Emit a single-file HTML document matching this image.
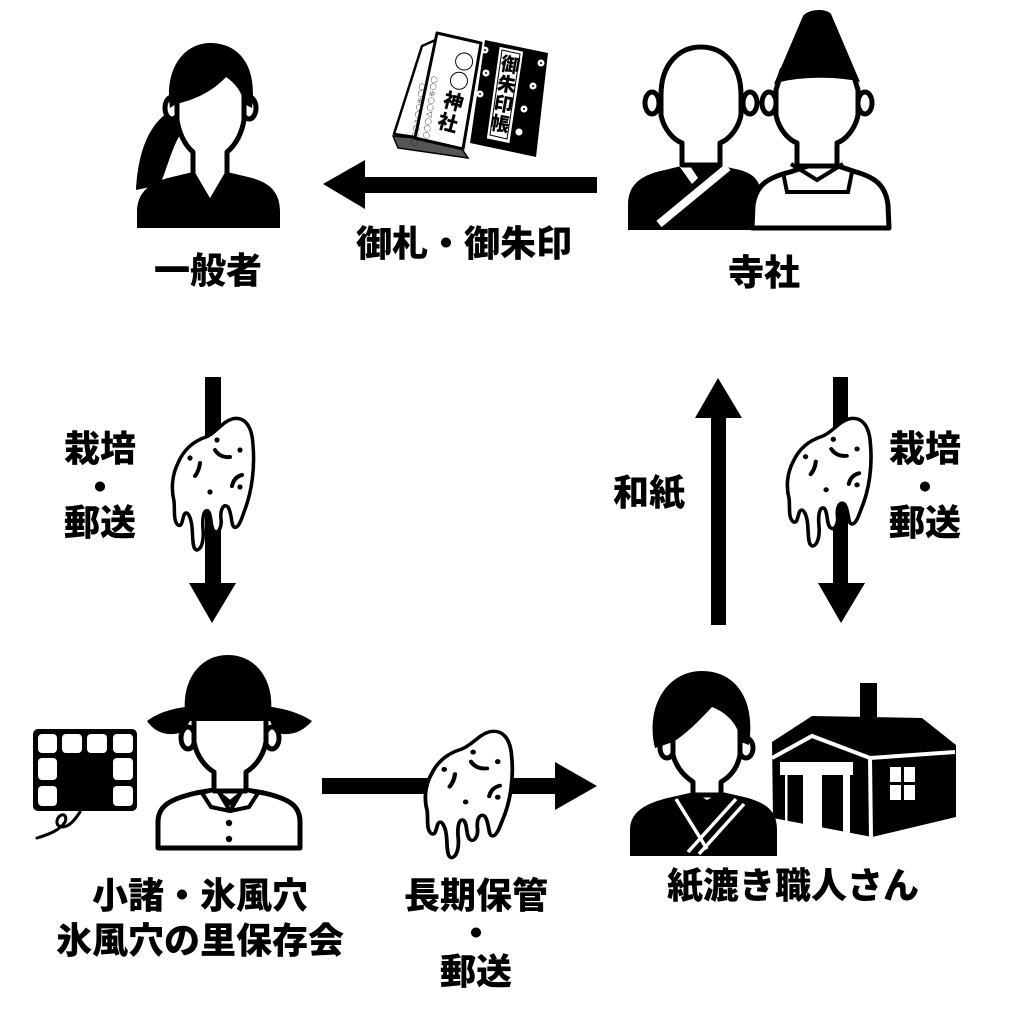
<!DOCTYPE html>
<html><head><meta charset="utf-8"><style>
html,body{margin:0;padding:0;background:#fff;}
svg{display:block;}
.t{font-family:"Liberation Sans","Noto Sans CJK JP",sans-serif;font-weight:900;font-size:36px;text-anchor:middle;fill:#000;}
.b{font-family:"Noto Sans CJK JP",sans-serif;font-weight:900;text-anchor:middle;fill:#000;}
</style></head><body>
<svg width="1024" height="1024" viewBox="0 0 1024 1024" xmlns="http://www.w3.org/2000/svg">
<rect width="1024" height="1024" fill="#fff"/>

<!-- ===== Woman (一般者) ===== -->
<path d="M172 110 C150 122 138 150 136 190 L160 185 C168 165 172 148 180 135 Z" fill="#000"/>
<path d="M137 228 L137 212 C137 192 150 182 172 177 L193 172 L210 203 L227 172 L248 177 C270 182 280 192 280 212 L280 228 Z" fill="#000"/>
<ellipse cx="172" cy="108" rx="7" ry="11" fill="#fff" stroke="#000" stroke-width="5"/>
<ellipse cx="249" cy="108" rx="7" ry="11" fill="#fff" stroke="#000" stroke-width="5"/>
<path d="M177 70 L177 120 C180 138 188 148 193 152 L193 174 L210 203 L227 174 L227 152 C232 148 241 138 244 120 L244 70 Z" fill="#fff" stroke="#000" stroke-width="5" stroke-linejoin="round"/>
<path d="M170 108 C164 66 186 43 210 43 C236 43 258 62 252 108 L244 104 C242 92 236 84 226 77 C212 92 194 100 176 104 Z" fill="#000"/>
<text class="t" x="208" y="283">一般者</text>

<!-- ===== Book icon ===== -->
<polygon points="485,40 548,53 536,157 470,143" fill="#000"/>
<polygon points="499,46 524,51 510,144 486,139" fill="#fff" stroke="#000" stroke-width="1.5"/>
<polygon points="502,50 520,54 507,139 490,135" fill="none" stroke="#000" stroke-width="1"/>
<g transform="rotate(10 505 95)">
<text class="b" x="505" y="71" font-size="19">御</text>
<text class="b" x="505" y="91" font-size="19">朱</text>
<text class="b" x="505" y="111" font-size="19">印</text>
<text class="b" x="505" y="131" font-size="19">帳</text>
</g>
<g fill="#fff">
<circle cx="485" cy="50" r="3.5"/><circle cx="486" cy="73" r="3.5"/><circle cx="480" cy="94" r="3.5"/><circle cx="466" cy="127" r="3.5"/>
<circle cx="541" cy="63" r="3.5"/><circle cx="533" cy="86" r="3.5"/><circle cx="524" cy="109" r="3.5"/><circle cx="519" cy="132" r="3.5"/>
</g>
<g fill="#000"><circle cx="485" cy="50" r="1"/><circle cx="486" cy="73" r="1"/><circle cx="480" cy="94" r="1"/><circle cx="541" cy="63" r="1"/><circle cx="533" cy="86" r="1"/><circle cx="524" cy="109" r="1"/></g>
<polygon points="393,136 415,138 462,149 468,158 398,148" fill="#555" stroke="#000" stroke-width="1.5"/>
<polygon points="422,46 440,38 415,137 394,134" fill="#fff" stroke="#000" stroke-width="2.5" stroke-linejoin="round"/>
<polygon points="437,33 481,43 463,149 415,138" fill="#fff" stroke="#000" stroke-width="3" stroke-linejoin="round"/>
<g transform="rotate(15 456 92)">
<text class="b" x="456" y="68" font-size="20">○</text>
<text class="b" x="456" y="88" font-size="20">○</text>
<text class="b" x="456" y="109" font-size="20">神</text>
<text class="b" x="456" y="131" font-size="20">社</text>
</g>
<text class="b" font-size="7" transform="translate(432,76) rotate(98)" style="text-anchor:start">○○※○○▽○○○</text>
<text class="b" font-size="7" transform="translate(420,83) rotate(98)" style="text-anchor:start">○○※○○▽○○○</text>

<!-- ===== Top arrow ===== -->
<rect x="362" y="177" width="235" height="16" fill="#000"/>
<polygon points="323,184 365,160 365,209" fill="#000"/>
<text class="t" x="464" y="256">御札・御朱印</text>

<!-- ===== Monk & priest (寺社) ===== -->
<path d="M628 230 L628 205 C628 185 640 175 665 170 L685 165 L718 165 L740 170 C758 175 762 185 762 205 L762 230 Z" fill="#000"/>
<polygon points="677,163 688,163 698,178 692,184" fill="#fff"/>
<line x1="728" y1="167" x2="659" y2="224" stroke="#fff" stroke-width="8"/>
<ellipse cx="652" cy="103" rx="7" ry="11" fill="#fff" stroke="#000" stroke-width="5"/>
<ellipse cx="750" cy="103" rx="7" ry="11" fill="#fff" stroke="#000" stroke-width="5"/>
<path d="M661 95 C661 63 680 47 701 47 C722 47 741 63 741 95 L741 115 C738 130 728 140 720 143 L720 165 L682 165 L682 143 C674 140 664 130 661 115 Z" fill="#fff" stroke="#000" stroke-width="5" stroke-linejoin="round"/>

<path d="M752 228 L753 205 C756 186 766 178 790 172 L808 166 L838 166 L856 172 C878 178 886 188 888 205 L889 228 Z" fill="#fff" stroke="#000" stroke-width="5" stroke-linejoin="round"/>
<polyline points="783,172 787,192 848,192 852,172" fill="none" stroke="#000" stroke-width="4"/>
<polyline points="791,164 817,180 843,164" fill="none" stroke="#000" stroke-width="4"/>
<ellipse cx="769" cy="103" rx="7" ry="11" fill="#fff" stroke="#000" stroke-width="5"/>
<ellipse cx="865" cy="103" rx="7" ry="11" fill="#fff" stroke="#000" stroke-width="5"/>
<path d="M776 90 L782 70 L852 70 L858 90 L858 115 C855 130 845 140 837 143 L837 166 L797 166 L797 143 C789 140 779 130 776 115 Z" fill="#fff" stroke="#000" stroke-width="5" stroke-linejoin="round"/>
<path d="M774 84 L803 16 C808 9 826 8 831 14 L860 82 C840 76 795 76 774 84 Z" fill="#000"/>
<text class="t" x="764" y="285">寺社</text>

<!-- ===== Left down arrow + tuber ===== -->
<rect x="205" y="377" width="16" height="208" fill="#000"/>
<polygon points="189,583 236,583 212,623" fill="#000"/>
<g transform="translate(172,417)">
<path d="M60 2 C72 -1 80 8 81 28 C83 50 80 75 72 95 C69 104 66 112 62 110 C59 108 60 96 56 90 C52 86 48 92 49 102 C50 110 46 118 42 114 C38 110 40 98 36 94 C32 92 30 100 31 112 C32 122 30 132 25 133 C20 133 21 120 20 110 C19 100 15 92 12 98 C10 104 10 110 6 108 C1 104 3 92 2 84 C-1 72 0 58 6 46 C12 32 22 24 34 20 C44 16 50 5 60 2 Z" fill="#fff" stroke="#000" stroke-width="3.5" stroke-linejoin="round"/>
<g fill="#000"><circle cx="45" cy="23" r="2.6"/><circle cx="68" cy="33" r="2.6"/><circle cx="18" cy="41" r="2.6"/><circle cx="68" cy="70" r="2.6"/><circle cx="38" cy="75" r="2.6"/></g>
<g fill="none" stroke="#000" stroke-width="4" stroke-linecap="round"><path d="M43 33 Q48 41 58 40"/><path d="M28 46 Q27 54 23 59"/><path d="M70 58 Q62 60 60 69"/></g>
</g>
<text class="t" x="100" y="461">栽培</text>
<text class="t" x="100" y="500">・</text>
<text class="t" x="100" y="535">郵送</text>

<!-- ===== Right up arrow (和紙) ===== -->
<rect x="711" y="416" width="15" height="209" fill="#000"/>
<polygon points="695,418 742,418 718,378" fill="#000"/>
<text class="t" x="649" y="505">和紙</text>

<!-- ===== Right down arrow + tuber ===== -->
<rect x="833" y="377" width="15" height="208" fill="#000"/>
<polygon points="818,583 865,583 841,623" fill="#000"/>
<g transform="translate(787,417) scale(1.03,0.97)">
<path d="M60 2 C72 -1 80 8 81 28 C83 50 80 75 72 95 C69 104 66 112 62 110 C59 108 60 96 56 90 C52 86 48 92 49 102 C50 110 46 118 42 114 C38 110 40 98 36 94 C32 92 30 100 31 112 C32 122 30 132 25 133 C20 133 21 120 20 110 C19 100 15 92 12 98 C10 104 10 110 6 108 C1 104 3 92 2 84 C-1 72 0 58 6 46 C12 32 22 24 34 20 C44 16 50 5 60 2 Z" fill="#fff" stroke="#000" stroke-width="3.5" stroke-linejoin="round"/>
<g fill="#000"><circle cx="45" cy="23" r="2.6"/><circle cx="68" cy="33" r="2.6"/><circle cx="18" cy="41" r="2.6"/><circle cx="68" cy="70" r="2.6"/><circle cx="38" cy="75" r="2.6"/></g>
<g fill="none" stroke="#000" stroke-width="4" stroke-linecap="round"><path d="M43 33 Q48 41 58 40"/><path d="M28 46 Q27 54 23 59"/><path d="M70 58 Q62 60 60 69"/></g>
</g>
<text class="t" x="925" y="461">栽培</text>
<text class="t" x="925" y="500">・</text>
<text class="t" x="925" y="535">郵送</text>

<!-- ===== Farmer ===== -->
<rect x="33" y="729" width="104" height="82" rx="5" fill="#000"/>
<g fill="#fff">
<rect x="38" y="734" width="19" height="19" rx="4"/><rect x="62" y="734" width="20" height="19" rx="4"/><rect x="87" y="734" width="20" height="19" rx="4"/><rect x="113" y="734" width="20" height="19" rx="4"/>
<rect x="38" y="758" width="19" height="22" rx="4"/><rect x="113" y="758" width="20" height="22" rx="4"/>
<rect x="38" y="786" width="19" height="20" rx="4"/><rect x="113" y="786" width="20" height="20" rx="4"/>
</g>
<path d="M37 838 C50 834 60 830 65 822 C68 815 62 812 58 818 C54 826 62 830 70 824 C75 820 78 815 80 812" fill="none" stroke="#000" stroke-width="3" stroke-linecap="round"/>

<path d="M158 848 L158 822 C158 806 170 799 196 793 L214 790 L230 803 L246 790 L264 793 C290 799 300 806 300 822 L300 848 Z" fill="#fff" stroke="#000" stroke-width="5" stroke-linejoin="round"/>
<polygon points="202,793 217,789 230,811 211,807" fill="#fff" stroke="#000" stroke-width="4" stroke-linejoin="round"/>
<polygon points="258,793 243,789 230,811 249,807" fill="#fff" stroke="#000" stroke-width="4" stroke-linejoin="round"/>
<circle cx="229" cy="823" r="3.2" fill="#000"/><circle cx="229" cy="839" r="3.2" fill="#000"/>
<ellipse cx="188" cy="738" rx="7" ry="11" fill="#fff" stroke="#000" stroke-width="5"/>
<ellipse cx="272" cy="738" rx="7" ry="11" fill="#fff" stroke="#000" stroke-width="5"/>
<path d="M194 715 L194 742 C197 758 207 768 214 772 L214 791 L246 791 L246 772 C253 768 263 758 266 742 L266 715 Z" fill="#fff" stroke="#000" stroke-width="5" stroke-linejoin="round"/>
<path d="M185 712 C182 680 200 655 228 655 C256 655 274 680 271 712 Z" fill="#000"/>
<path d="M147 721 C165 707 195 704 228 705 C261 704 291 707 312 721 C302 733 288 737 275 732 L270 721 L190 721 L183 732 C168 737 155 733 147 721 Z" fill="#000"/>
<text class="t" x="200" y="908">小諸・氷風穴</text>
<text class="t" x="200" y="953">氷風穴の里保存会</text>

<!-- ===== Bottom arrow + tuber ===== -->
<rect x="322" y="778" width="236" height="16" fill="#000"/>
<polygon points="555,762 555,810 597,786" fill="#000"/>
<g transform="translate(425,730) scale(1.07,0.96)">
<path d="M60 2 C72 -1 80 8 81 28 C83 50 80 75 72 95 C69 104 66 112 62 110 C59 108 60 96 56 90 C52 86 48 92 49 102 C50 110 46 118 42 114 C38 110 40 98 36 94 C32 92 30 100 31 112 C32 122 30 132 25 133 C20 133 21 120 20 110 C19 100 15 92 12 98 C10 104 10 110 6 108 C1 104 3 92 2 84 C-1 72 0 58 6 46 C12 32 22 24 34 20 C44 16 50 5 60 2 Z" fill="#fff" stroke="#000" stroke-width="3.5" stroke-linejoin="round"/>
<g fill="#000"><circle cx="45" cy="23" r="2.6"/><circle cx="68" cy="33" r="2.6"/><circle cx="18" cy="41" r="2.6"/><circle cx="68" cy="70" r="2.6"/><circle cx="38" cy="75" r="2.6"/></g>
<g fill="none" stroke="#000" stroke-width="4" stroke-linecap="round"><path d="M43 33 Q48 41 58 40"/><path d="M28 46 Q27 54 23 59"/><path d="M70 58 Q62 60 60 69"/></g>
</g>
<text class="t" x="476" y="908">長期保管</text>
<text class="t" x="476" y="946">・</text>
<text class="t" x="476" y="984">郵送</text>

<!-- House (drawn first, behind craftsman) -->
<rect x="860" y="683" width="17" height="34" fill="#000"/>
<polygon points="772,742 812,716 922,718 956,745 956,817 872,837 773,818" fill="#000"/>
<polyline points="772,758 812,736 870,758 955,752" fill="none" stroke="#fff" stroke-width="4"/>
<line x1="870" y1="758" x2="871" y2="838" stroke="#fff" stroke-width="4"/>
<rect x="780" y="762" width="73" height="13" fill="#fff"/>
<rect x="785" y="775" width="2.5" height="46" fill="#fff"/>
<polygon points="803,775 822,775 822,836 803,832" fill="#fff"/>
<polygon points="843,775 850,775 850,840 843,838" fill="#fff"/>
<g fill="#fff">
<rect x="890" y="767" width="11" height="15"/><rect x="904" y="767" width="11" height="15"/>
<rect x="890" y="785" width="11" height="15"/><rect x="904" y="785" width="11" height="15"/>
</g>

<!-- ===== Craftsman ===== -->
<path d="M630 856 L630 830 C630 812 645 803 672 797 L694 792 L707 800 L722 792 L744 797 C768 803 777 812 777 830 L777 856 Z" fill="#000"/>
<g stroke="#fff" stroke-width="3.5" fill="none">
<line x1="676" y1="799" x2="707" y2="849"/>
<line x1="736" y1="799" x2="688" y2="852"/>
<line x1="744" y1="804" x2="699" y2="854"/>
</g>
<ellipse cx="667" cy="748" rx="7" ry="10" fill="#fff" stroke="#000" stroke-width="5"/>
<ellipse cx="746" cy="748" rx="7" ry="10" fill="#fff" stroke="#000" stroke-width="5"/>
<path d="M673 700 L673 755 C677 770 687 778 693 782 L693 795 L721 795 L721 782 C728 778 737 770 740 755 L740 700 Z" fill="#fff" stroke="#000" stroke-width="5" stroke-linejoin="round"/>
<path d="M655 748 C645 705 668 671 702 671 C736 671 756 700 749 745 L741 742 C739 726 728 713 712 707 C698 722 686 734 673 742 Z" fill="#000"/>
<text class="t" x="793" y="898">紙漉き職人さん</text>
</svg>
</body></html>
